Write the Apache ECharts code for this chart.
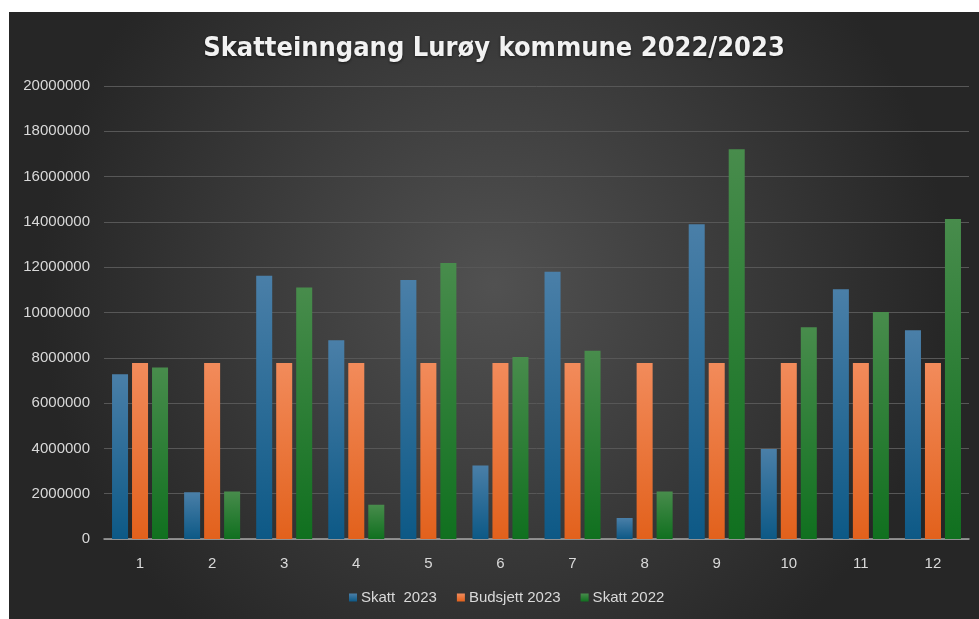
<!DOCTYPE html>
<html>
<head>
    <meta charset="utf-8">
    <script src="https://cdn.jsdelivr.net/npm/echarts@6/dist/echarts.min.js"></script>
    <style>
    html, body { margin: 0; padding: 0; background: #fff; }
    #main {
      position: absolute;
      left: 9px;
      top: 12px;
      width: 970px;
      height: 607px;
    }
    </style>
    <title>Skatteinngang Lurøy kommune 2022/2023</title>
</head>
<body>
    <div id="main"></div>
    <script type="text/javascript">

        var months = ['1', '2', '3', '4', '5', '6', '7', '8', '9', '10', '11', '12'];
        var skatt2023 = [7270000, 2060000, 11620000, 8780000, 11430000, 3240000, 11800000, 930000, 13900000, 3970000, 11030000, 9220000];
        var budsjett2023 = [7770000, 7770000, 7770000, 7770000, 7770000, 7770000, 7770000, 7770000, 7770000, 7770000, 7770000, 7770000];
        var skatt2022 = [7570000, 2100000, 11100000, 1510000, 12180000, 8030000, 8310000, 2100000, 17210000, 9350000, 10020000, 14130000];

        function grad(top, bottom) {
          return new echarts.graphic.LinearGradient(0, 0, 0, 1, [
            { offset: 0, color: top },
            { offset: 1, color: bottom }
          ]);
        }

        var myChart = echarts.init(document.getElementById('main'));

        var barStyle = function (top, bottom) {
          return {
            color: grad(top, bottom),
            shadowColor: 'rgba(0,0,0,0.45)',
            shadowBlur: 3,
            shadowOffsetX: 1,
            shadowOffsetY: 1
          };
        };

        var labelFont = 'Liberation Sans';

        var option = {
          backgroundColor: new echarts.graphic.RadialGradient(0.5, 0.45, 0.75, [
            { offset: 0, color: '#515151' },
            { offset: 1, color: '#262626' }
          ]),
          title: {
            text: 'Skatteinngang Lurøy kommune 2022/2023',
            left: 'center',
            top: 18,
            textStyle: {
              color: '#f2f2f2',
              fontFamily: 'DejaVu Sans Condensed',
              fontWeight: 'bold',
              fontSize: 27,
              textShadowColor: 'rgba(0,0,0,0.6)',
              textShadowBlur: 3,
              textShadowOffsetY: 1
            }
          },
          legend: {
            bottom: 9,
            left: 335,
            itemWidth: 8,
            itemHeight: 8,
            itemGap: 20,
            icon: 'rect',
            textStyle: { color: '#d9d9d9', fontSize: 15, fontFamily: labelFont, padding: [0, 0, 0, -1] },
            data: ['Skatt  2023', 'Budsjett 2023', 'Skatt 2022']
          },
          grid: {
            left: 95,
            right: 10,
            top: 74,
            bottom: 80
          },
          xAxis: {
            type: 'category',
            data: months,
            axisTick: { show: false },
            axisLine: { lineStyle: { color: '#a6a6a6', width: 1.5 } },
            axisLabel: { color: '#d9d9d9', fontSize: 15, margin: 17, fontFamily: labelFont }
          },
          yAxis: {
            type: 'value',
            min: 0,
            max: 20000000,
            interval: 2000000,
            axisLabel: {
              color: '#d9d9d9',
              fontSize: 15,
              margin: 14,
              fontFamily: labelFont,
              formatter: function (v) { return String(v); }
            },
            splitLine: { lineStyle: { color: '#575757', width: 1 } }
          },
          series: [
            {
              name: 'Skatt  2023',
              type: 'bar',
              barWidth: 16,
              barGap: '25%',
              itemStyle: barStyle('#4a7fa8', '#0d5986'),
              data: skatt2023
            },
            {
              name: 'Budsjett 2023',
              type: 'bar',
              barWidth: 16,
              barGap: '25%',
              itemStyle: barStyle('#f28b5b', '#e2611c'),
              data: budsjett2023
            },
            {
              name: 'Skatt 2022',
              type: 'bar',
              barWidth: 16,
              barGap: '25%',
              itemStyle: barStyle('#488c4c', '#10701f'),
              data: skatt2022
            }
          ]
        };
        myChart.setOption(option);

    </script>
</body>
</html>
